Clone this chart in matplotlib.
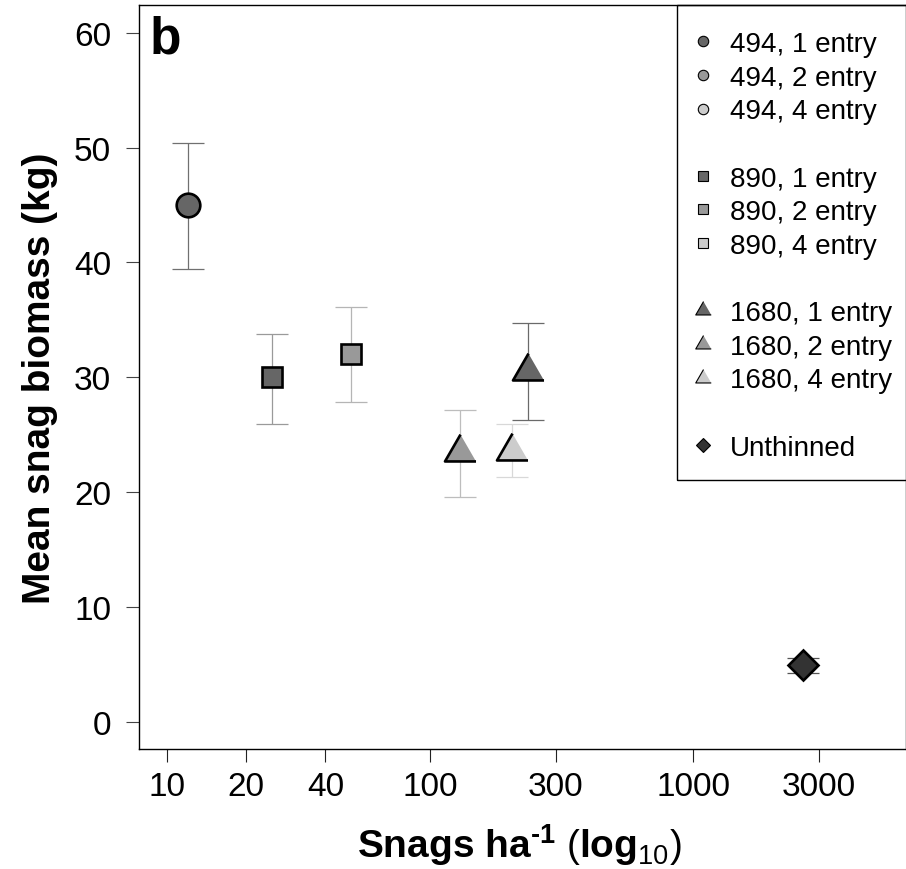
import numpy as np
import matplotlib
matplotlib.use("Agg")
import matplotlib.pyplot as plt
from matplotlib.lines import Line2D
from matplotlib.patches import Rectangle

plt.rcParams['font.family'] = ['Liberation Sans', 'DejaVu Sans']
plt.rcParams['mathtext.fontset'] = 'custom'
plt.rcParams['mathtext.rm'] = 'Liberation Sans'
plt.rcParams['mathtext.bf'] = 'Liberation Sans:bold'
plt.rcParams['mathtext.it'] = 'Liberation Sans:italic'

# data
labels = ["494, 1 entry", "890, 1 entry", "890, 2 entry", "1680, 2 entry",
          "1680, 4 entry", "1680, 1 entry", "Unthinned"]
snags_ha = [12, 25, 50, 130, 204, 235, 2620]
biomass = [45.0, 30.0, 32.0, 23.5, 23.6, 30.5, 4.9]
err_low = [39.4, 25.9, 27.8, 19.6, 21.3, 26.3, 4.2]
err_high = [50.4, 33.8, 36.1, 27.1, 25.9, 34.7, 5.5]

legend_labels = ["494, 1 entry", "494, 2 entry", "494, 4 entry", "",
                 "890, 1 entry", "890, 2 entry", "890, 4 entry", "",
                 "1680, 1 entry", "1680, 2 entry", "1680, 4 entry", "",
                 "Unthinned"]

xticks = [10, 20, 40, 100, 300, 1000, 3000]
yticks = [0, 10, 20, 30, 40, 50, 60]

# styles
tri = [(0, 1), (-0.866, -0.5), (0.866, -0.5)]
entry_col = {"1": "#666666", "2": "#999999", "4": "#cccccc"}
def style(lab):
    if lab == "Unthinned":
        return "D", "#333333"
    dens, ent = lab.split(", ")
    mk = {"494": "o", "890": "s", "1680": tri}[dens]
    return mk, entry_col[ent[0]]

big_size = {"o": 17, "s": 14.5, "D": 15.5}
small_size = {"o": 7.5, "s": 6.8, "D": 7.6}
bar_cols = ['#707070', '#9a9a9a', '#b5b5b5', '#bdbdbd', '#d8d8d8', '#6a6a6a', '#555555']

W, H = 906, 870
fig = plt.figure(figsize=(W / 100, H / 100), dpi=100)
ax = fig.add_axes([138.7 / W, 1 - 750.2 / H, (905.5 - 138.7) / W, (750.2 - 6.2) / H])
ax.set_xscale('log')

for i, lab in enumerate(labels):
    ax.errorbar(snags_ha[i], biomass[i],
                yerr=[[biomass[i] - err_low[i]], [err_high[i] - biomass[i]]],
                fmt='none', ecolor=bar_cols[i], elinewidth=0.9, capsize=11.5,
                capthick=0.9, zorder=2)
for i, lab in enumerate(labels):
    mk, col = style(lab)
    ms = 25.8 if mk is tri else big_size[mk]
    ax.plot(snags_ha[i], biomass[i], linestyle='none', marker=mk, markersize=ms,
            markerfacecolor=col, markeredgecolor='black', markeredgewidth=1.9,
            zorder=3)

lo, hi = np.log10(10), np.log10(5000)
pad = 0.04 * (hi - lo)
ax.set_xlim(10 ** (lo - pad), 10 ** (hi + pad))
ax.set_ylim(-2.4, 62.4)

ax.set_xticks(xticks)
ax.set_xticklabels([str(t) for t in xticks])
ax.xaxis.set_minor_locator(matplotlib.ticker.NullLocator())
ax.set_yticks(yticks)
ax.set_yticklabels([str(t) for t in yticks])
ax.tick_params(axis='x', direction='out', length=9.1, width=0.8, color='#222222',
               labelsize=24, pad=6.5)
ax.tick_params(axis='y', direction='out', length=9.4, width=0.8, color='#444444',
               labelsize=24, pad=10.5)
for s in ax.spines.values():
    s.set_linewidth(1.0)
    s.set_color('black')

ax.set_xlabel('$\\mathbf{Snags\\ ha^{\u2010 1}}\\ (\\mathbf{log}_{\\mathrm{10}})$',
              fontsize=28, va='baseline')
ax.xaxis.set_label_coords(0.497, -0.1449)
ax.set_ylabel('Mean snag biomass (kg)', fontsize=28, fontweight='bold', va='baseline')
ax.yaxis.set_label_coords(-0.1157, 0.5)

fig.text(149.5 / W, 1 - 53.3 / H, 'b', fontsize=37, fontweight='bold', va='baseline')

# legend
handles = []
for lab in legend_labels:
    if lab == "":
        handles.append(Line2D([], [], linestyle='none', marker='none'))
        continue
    mk, col = style(lab)
    ms = 12.9 if mk is tri else small_size[mk]
    handles.append(Line2D([], [], linestyle='none', marker=mk, markersize=ms,
                          markerfacecolor=col, markeredgecolor='black',
                          markeredgewidth=0.8))
leg = ax.legend(handles, [l if l else " " for l in legend_labels], loc='upper left',
                bbox_to_anchor=(688 / W, 1 - 32 / H), bbox_transform=fig.transFigure,
                frameon=False, fontsize=20, borderpad=0, handlelength=1.1,
                handletextpad=0.4, labelspacing=0.275, borderaxespad=0)
fig.patches.append(Rectangle((677 / W, 1 - 480.7 / H), 240 / W, (480.7 - 5.7) / H,
                             transform=fig.transFigure, fill=False, edgecolor='black',
                             linewidth=1.0, zorder=5))

fig.savefig('out.png', dpi=100)
